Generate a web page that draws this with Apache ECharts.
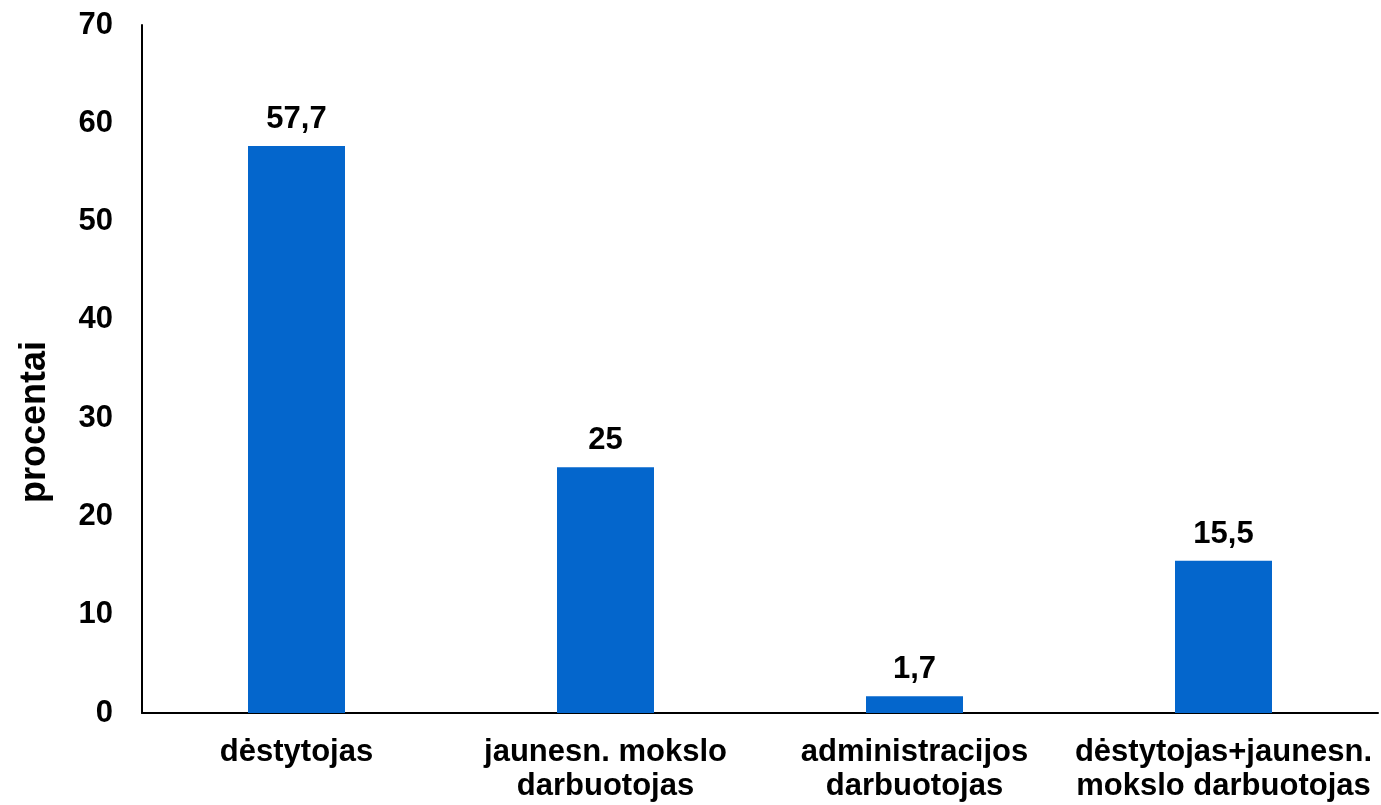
<!DOCTYPE html>
<html><head><meta charset="utf-8">
<script src="https://cdn.jsdelivr.net/npm/echarts@6/dist/echarts.min.js"></script>
<style>html,body{margin:0;padding:0;background:#fff}#c{width:1381px;height:805px}</style>
</head><body><div id="c"></div>
<script>
var categories = ['dėstytojas', 'jaunesn. mokslo\ndarbuotojas', 'administracijos\ndarbuotojas', 'dėstytojas+jaunesn.\nmokslo darbuotojas'];
var values = [57.7, 25, 1.7, 15.5];
var valueLabels = ['57,7', '25', '1,7', '15,5'];
var yTicks = [0, 10, 20, 30, 40, 50, 60, 70];
var yName = 'procentai';
var FONT = '"Liberation Sans", Arial, sans-serif';
var chart = echarts.init(document.getElementById('c'));
chart.setOption({
  animation: false,
  grid: {left: 142, right: 3, top: 25, bottom: 92, containLabel: false},
  graphic: [{
    type: 'text', x: 35, y: 422, rotation: Math.PI / 2,
    style: {text: yName, fill: '#000', font: 'bold 36px "Liberation Sans", Arial, sans-serif', align: 'center', verticalAlign: 'middle'}
  }],
  xAxis: {
    type: 'category', data: categories,
    axisLine: {lineStyle: {color: '#000', width: 2}},
    axisTick: {show: false},
    axisLabel: {interval: 0, color: '#000', fontFamily: FONT, fontWeight: 'bold', fontSize: 31, lineHeight: 34, margin: 22}
  },
  yAxis: {
    type: 'value', min: yTicks[0], max: yTicks[yTicks.length - 1], interval: 10,
    axisLine: {show: true, lineStyle: {color: '#000', width: 2}},
    axisTick: {show: false},
    splitLine: {show: false},
    axisLabel: {color: '#000', fontFamily: FONT, fontWeight: 'bold', fontSize: 31, margin: 29}
  },
  series: [{
    type: 'bar', data: values, barWidth: 97,
    itemStyle: {color: '#0466cc'},
    label: {show: true, position: 'top', distance: 11, color: '#000', fontFamily: FONT, fontWeight: 'bold', fontSize: 31,
      formatter: function (p) { return valueLabels[p.dataIndex]; }}
  }]
});
</script></body></html>
